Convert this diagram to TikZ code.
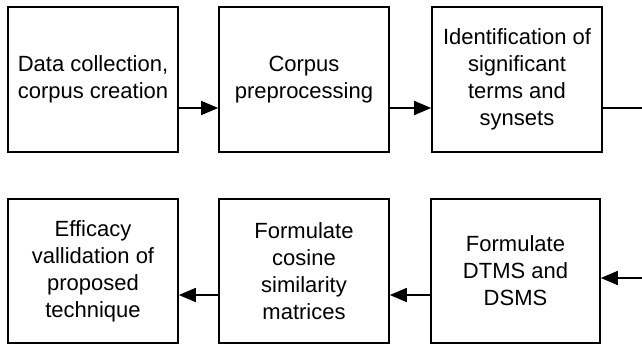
\documentclass[tikz,border=0pt]{standalone}
\usepackage{fontspec}
\setmainfont{Liberation Sans}
\usetikzlibrary{arrows.meta}
\begin{document}
\begin{tikzpicture}[x=1pt,y=1pt,
    stepbox/.style={draw,line width=1.6pt,minimum width=170pt,minimum height=145pt,
      inner sep=0pt,align=center,font=\fontsize{22}{27}\selectfont},
    flow/.style={line width=1.6pt,-{Triangle[length=17pt,width=14pt]}}]
      \useasboundingbox (0,0) rectangle (642,346);
      \draw
        (93,266.5) node[stepbox] (1){Data collection,\\corpus creation}
        (304,266.5) node[stepbox] (2){Corpus\\preprocessing}
        (517,266.5) node[stepbox] (3){Identification of\\significant\\terms and\\synsets}
        (515.5,75) node[stepbox,minimum width=169pt,minimum height=144pt] (6){Formulate\\DTMS and\\DSMS}
        (304,75) node[stepbox,minimum height=144pt] (5){Formulate\\cosine\\similarity\\matrices}
        (93,75) node[stepbox,minimum height=144pt] (4){Efficacy\\vallidation of\\proposed\\technique};
      \coordinate (r1) at (642,238);
      \coordinate (r2) at (642,68);
      \begin{scope}[flow]
        \draw ([yshift=-28.5pt]1.east) to ([yshift=-28.5pt]2.west);
        \draw ([yshift=-28.5pt]2.east) to ([yshift=-28.5pt]3.west);
        \draw[-] ([yshift=-28.5pt]3.east) to (r1);
        \draw (r2) to ([yshift=-7pt]6.east);
        \draw ([yshift=-24pt]6.west) to ([yshift=-24pt]5.east);
        \draw ([yshift=-24pt]5.west) to ([yshift=-24pt]4.east);
      \end{scope}
    \end{tikzpicture}
\end{document}
